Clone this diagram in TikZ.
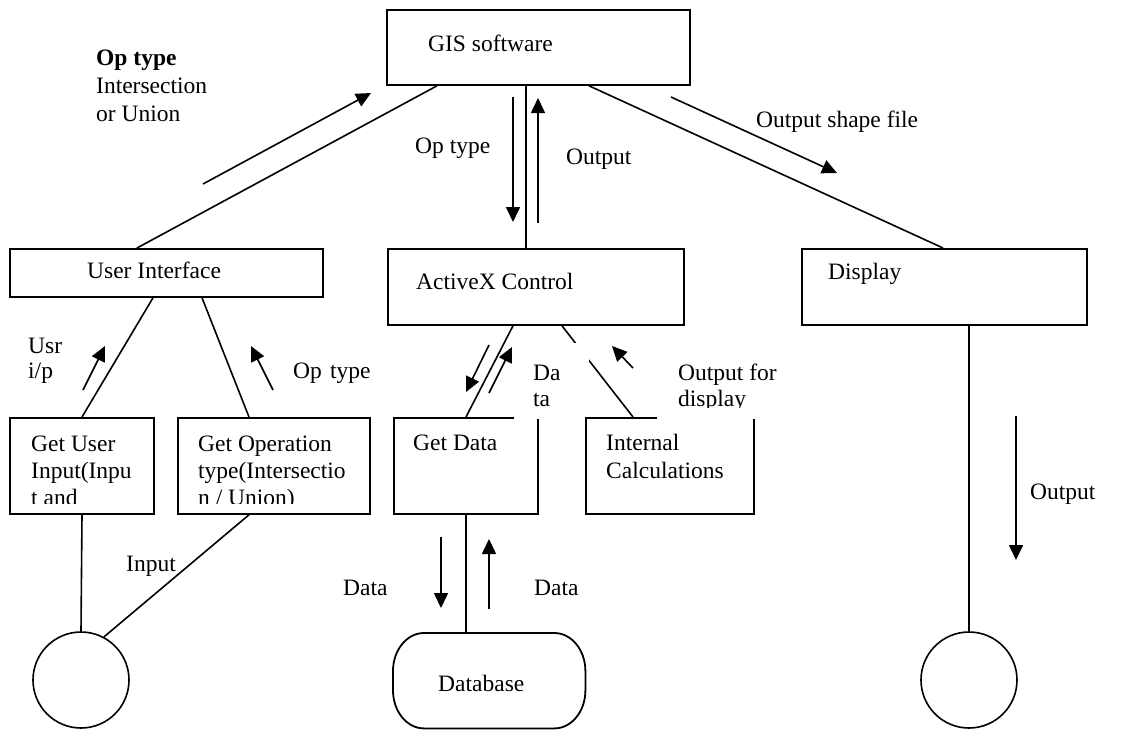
\documentclass[tikz,border=0pt]{standalone}
\usepackage{fontspec}
\setmainfont{Liberation Serif}
\usetikzlibrary{arrows.meta}
\begin{document}
\begin{tikzpicture}[x=1pt,y=-1pt,
  box/.style={draw, line width=1.8pt, rectangle, anchor=north west, inner sep=0pt},
  bubble/.style={draw, circle, line width=1.6pt, minimum size=96pt, inner sep=0pt},
  link/.style={line width=1.6pt},
  flow/.style={line width=1.6pt, -{Triangle[length=15pt,width=14pt]}},
  txt/.style={inner sep=0pt, anchor=base west, font=\fontsize{23.5}{27.5}\selectfont},
  cover/.style={fill=white, draw=none, anchor=north west, inner sep=0pt}
]
\useasboundingbox (0,0) rectangle (1135,732);

% processes
\node[box, minimum width=303pt, minimum height=75pt] (gis)  at (386,9)   {};
\node[box, minimum width=313pt, minimum height=48pt] (ui)   at (9,248)   {};
\node[box, minimum width=296pt, minimum height=76pt] (ax)   at (387,248) {};
\node[box, minimum width=285pt, minimum height=76pt] (disp) at (801,248) {};
\node[box, minimum width=144pt, minimum height=96pt] (gui)  at (9,417)   {};
\node[box, minimum width=192pt, minimum height=96pt] (gop)  at (177,417) {};
\node[box, minimum width=144pt, minimum height=96pt] (gd)   at (393,417) {};

% terminators
\node[bubble] (lc) at (81,680) {};
\node[bubble] (rc) at (969,680) {};

% data store: rectangle with elliptic corners
\node[anchor=north west, minimum width=192pt, minimum height=95pt, inner sep=0pt] (db) at (393,633) {};
\draw[line width=1.8pt]
  ([xshift=31pt]db.north west) -- ([xshift=-31pt]db.north east)
  arc[start angle=90, end angle=0, x radius=31pt, y radius=38pt]
  -- ([yshift=38pt]db.south east)
  arc[start angle=0, end angle=-90, x radius=31pt, y radius=38pt]
  -- ([xshift=31pt]db.south west)
  arc[start angle=270, end angle=180, x radius=31pt, y radius=38pt]
  -- ([yshift=-38pt]db.north west)
  arc[start angle=180, end angle=90, x radius=31pt, y radius=38pt]
  -- cycle;

% connectors
\draw[link] ([xshift=51pt]gis.south west)  -- ([xshift=128pt]ui.north west);
\draw[link] ([xshift=140pt]gis.south west) -- ([xshift=139pt]ax.north west);
\draw[link] ([xshift=203pt]gis.south west) -- ([xshift=142pt]disp.north west);
\draw[link] ([xshift=144pt]ui.south west)  -- ([xshift=73pt]gui.north west);
\draw[link] ([xshift=193pt]ui.south west)  -- ([xshift=72pt]gop.north west);
\draw[link] ([xshift=126pt]ax.south west)  -- ([xshift=73pt]gd.north west);
\draw[link] ([xshift=175pt]ax.south west)  -- (633,417) coordinate (icin);
\draw[link] ([xshift=168pt]disp.south west) -- (rc.north);
\draw[link] ([xshift=73pt]gui.south west)  -- (lc.north);
\draw[link] ([xshift=72pt]gop.south west)  -- (lc.62);
\draw[link] ([xshift=73pt]gd.south west)   -- ([xshift=73pt]db.north west);

% label box "Data" laid over the corner of Get Data
\node[cover, minimum width=75pt, minimum height=76pt] (datacover) at (514,343) {};
\node[txt] (lblda) at (533,380) {Da};
\node[txt] (lblta) at (533,406) {ta};

\node[box, minimum width=168pt, minimum height=96pt] (ic) at (585,417) {};

% label box "Output for display" laid over the corner of Internal Calculations
\node[cover, minimum width=100pt, minimum height=71pt] (outcover) at (657,348) {};
\begin{scope}
  \clip (650,340) rectangle (800,407);
  \node[txt] (lblof) at (678,380) {Output for};
  \node[txt] (lbldi) at (678,406) {display};
\end{scope}

% box captions
\node[txt] (tgis)  at (428,51)  {GIS software};
\node[txt] (tui)   at (87,278)  {User Interface};
\node[txt] (tax)   at (416,289) {ActiveX Control};
\node[txt] (tdisp) at (828,279) {Display};
\node[txt] (tgd)   at (413,450) {Get Data};
\node[txt] (tic1)  at (606,450) {Internal};
\node[txt] (tic2)  at (606,478) {Calculations};
\node[txt] (tdb)   at (438,691) {Database};
\begin{scope}
  \clip (0,400) rectangle (380,503);
  \node[txt] (tgu1) at (31,451)  {Get User};
  \node[txt] (tgu2) at (31,478)  {Input(Inpu};
  \node[txt] (tgu3) at (31,505)  {t and};
  \node[txt] (tgo1) at (198,451) {Get Operation};
  \node[txt] (tgo2) at (198,478) {type(Intersectio};
  \node[txt] (tgo3) at (198,505) {n / Union)};
\end{scope}

% flow labels
\node[txt] (lop1)  at (96,65)   {\textbf{Op type}};
\node[txt] (lop2)  at (96,93)   {Intersection};
\node[txt] (lop3)  at (96,121)  {or Union};
\node[txt] (lopc)  at (415,153) {Op type};
\node[txt] (loutc) at (566,164) {Output};
\node[txt] (lshp)  at (756,127) {Output shape file};
\node[txt] (lusr1) at (28,353)  {Usr};
\node[txt] (lusr2) at (28,378)  {i/p};
\node[txt] (lopl)  at (293,378) {Op\hspace{0.35em}type};
\node[txt] (linp)  at (126,571) {Input};
\node[txt] (ldat1) at (343,595) {Data};
\node[txt] (ldat2) at (534,595) {Data};
\node[txt] (lout)  at (1030,499) {Output};

% flow arrows
\coordinate (f1a) at (203,184);  \coordinate (f1b) at (371,93);
\coordinate (f2a) at (513,97);   \coordinate (f2b) at (513,222);
\coordinate (f3a) at (538,223);  \coordinate (f3b) at (538,98);
\coordinate (f4a) at (671,97);   \coordinate (f4b) at (837,173);
\coordinate (f5a) at (83,390);   \coordinate (f5b) at (105,346);
\coordinate (f6a) at (273,390);  \coordinate (f6b) at (251,346);
\coordinate (f7a) at (489,345);  \coordinate (f7b) at (466,392);
\coordinate (f8a) at (489,393);  \coordinate (f8b) at (512,347);
\coordinate (f9a) at (633,368);  \coordinate (f9b) at (612,346);
\coordinate (f10a) at (441,537); \coordinate (f10b) at (441,608);
\coordinate (f11a) at (489,609); \coordinate (f11b) at (489,539);
\coordinate (f12a) at (1016,416);\coordinate (f12b) at (1016,560);
\foreach \i in {1,...,12} \draw[flow] (f\i a) -- (f\i b);
\end{tikzpicture}
\end{document}
